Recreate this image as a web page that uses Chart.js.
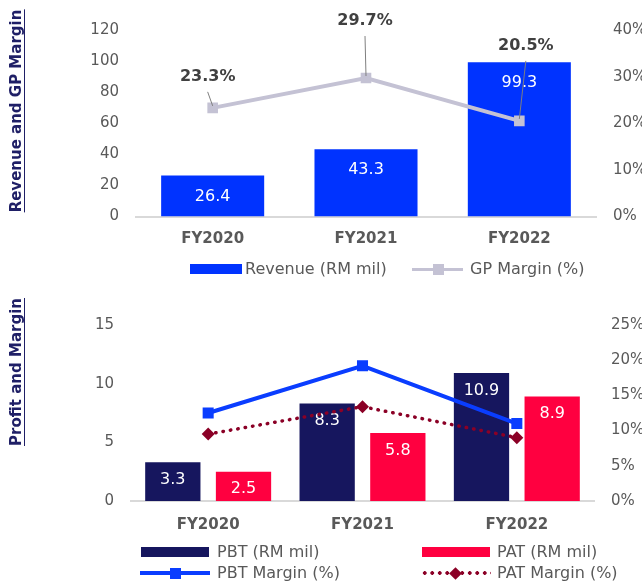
<!DOCTYPE html>
<html>
<head>
<meta charset="utf-8">
<script src="https://cdn.jsdelivr.net/npm/chart.js@4.4.0/dist/chart.umd.min.js"></script>
<style>
  body { margin: 0; background: #fff; font-family: "DejaVu Sans", Verdana, sans-serif; }
  #wrap { position: relative; width: 642px; height: 582px; overflow: hidden; }
  canvas { position: absolute; left: 0; }
  .ytitle {
    position: absolute; font-weight: bold; font-size: 15px; line-height: 15px;
    color: #1f1f66; white-space: nowrap; border-bottom: 1.5px solid #1f1f66;
    transform: translate(-50%, -50%) rotate(-90deg);
  }
  .leg { position: absolute; font-size: 16px; line-height: 20px; color: #595959; white-space: nowrap; }
  .sw { position: absolute; }
</style>
</head>
<body>
<div id="wrap">
  <canvas id="revChart" width="642" height="290" style="top:0"></canvas>
  <canvas id="profitChart" width="642" height="292" style="top:290px"></canvas>

  <div class="ytitle" style="left:17px; top:111px">Revenue and GP Margin</div>
  <div class="ytitle" style="left:17px; top:372px">Profit and Margin</div>

  <!-- top legend -->
  <div class="sw" style="left:190px; top:264px; width:52px; height:10px; background:#0033ff"></div>
  <div class="leg" style="left:245px; top:259px">Revenue (RM mil)</div>
  <div class="sw" style="left:412px; top:267.5px; width:51px; height:3px; background:#c4c2d4"></div>
  <div class="sw" style="left:432.5px; top:263.5px; width:11px; height:11px; background:#c4c2d4"></div>
  <div class="leg" style="left:470px; top:259px">GP Margin (%)</div>

  <!-- bottom legend -->
  <div class="sw" style="left:141px; top:547px; width:68px; height:10px; background:#16165e"></div>
  <div class="leg" style="left:217px; top:542px">PBT (RM mil)</div>
  <div class="sw" style="left:422px; top:547px; width:68px; height:10px; background:#ff0040"></div>
  <div class="leg" style="left:497px; top:542px">PAT (RM mil)</div>
  <div class="sw" style="left:140px; top:571px; width:70px; height:4px; background:#0a3dff"></div>
  <div class="sw" style="left:169.5px; top:567.5px; width:11px; height:11px; background:#0a3dff"></div>
  <div class="leg" style="left:217px; top:563px">PBT Margin (%)</div>
  <div class="sw" style="left:421px; top:571px; width:70px; height:4px;
       background: radial-gradient(circle, #8b0026 1.6px, transparent 2.1px) repeat-x; background-size: 7.5px 4px"></div>
  <div class="sw" style="left:450.5px; top:568.5px; width:9px; height:9px; background:#8b0026; transform:rotate(45deg)"></div>
  <div class="leg" style="left:497px; top:563px">PAT Margin (%)</div>
</div>

<script>
// chart data
const years = ["FY2020", "FY2021", "FY2022"];
const revenue = [26.4, 43.3, 99.3];
const gpMargin = [23.3, 29.7, 20.5];
const pbt = [3.3, 8.3, 10.9];
const pat = [2.5, 5.8, 8.9];
const pbtMargin = [12.5, 19.2, 11.0];
const patMargin = [9.5, 13.4, 9.0];

// axis ranges [min, max, step]
const revAxis = [0, 120, 20];
const gpAxis = [0, 40, 10];
const profitAxis = [0, 15, 5];
const marginAxis = [0, 25, 5];

const FONT = '"DejaVu Sans", Verdana, sans-serif';
Chart.defaults.font.family = FONT;
Chart.defaults.color = "#595959";

// white value labels inside the top of each bar
const barLabels = {
  id: "barLabels",
  afterDatasetDraw(chart, args, opts) {
    const meta = args.meta;
    if (meta.type !== "bar") return;
    const ctx = chart.ctx;
    const ds = chart.data.datasets[args.index];
    ctx.save();
    ctx.fillStyle = "#fff";
    ctx.font = "16px " + FONT;
    ctx.textAlign = "center";
    ctx.textBaseline = "middle";
    meta.data.forEach((bar, i) => {
      ctx.fillText(ds.data[i].toFixed(1), bar.x, bar.y + opts.offset);
    });
    ctx.restore();
  },
};

// GP margin labels with leader lines
const gpLabels = {
  id: "gpLabels",
  afterDatasetsDraw(chart, args, opts) {
    const idx = chart.data.datasets.findIndex((d) => d.type === "line");
    const meta = chart.getDatasetMeta(idx);
    const ds = chart.data.datasets[idx];
    const ctx = chart.ctx;
    ctx.save();
    meta.data.forEach((pt, i) => {
      const [dx, dy] = opts.offsets[i];
      const lx = pt.x + dx;
      const ly = pt.y + dy;
      ctx.strokeStyle = "#7f7f7f";
      ctx.lineWidth = 1;
      ctx.beginPath();
      ctx.moveTo(lx, ly + 15);
      ctx.lineTo(pt.x, pt.y - 2);
      ctx.stroke();
      ctx.fillStyle = "#404040";
      ctx.font = "bold 16px " + FONT;
      ctx.textAlign = "center";
      ctx.textBaseline = "middle";
      ctx.fillText(ds.data[i].toFixed(1) + "%", lx, ly);
    });
    ctx.restore();
  },
};

function yScale(range, pos, width, pct) {
  return {
    position: pos,
    min: range[0],
    max: range[1],
    ticks: {
      stepSize: range[2],
      padding: 17,
      font: { size: 15 },
      callback: (v) => (pct ? v + "%" : v),
    },
    grid: { display: false, drawTicks: false },
    border: { display: false },
    afterFit(s) { s.width = width; },
  };
}

const xScale = {
  grid: { drawOnChartArea: false, drawTicks: false },
  border: { color: "#d9d9d9", width: 2 },
  ticks: { padding: 14, font: { size: 15, weight: "bold" } },
  afterFit(s) { s.height = 40; },
};

new Chart(document.getElementById("revChart"), {
  type: "bar",
  data: {
    labels: years,
    datasets: [
      {
        type: "line",
        label: "GP Margin (%)",
        data: gpMargin,
        yAxisID: "y1",
        borderColor: "#c4c2d4",
        backgroundColor: "#c4c2d4",
        borderWidth: 4,
        pointStyle: "rect",
        pointRadius: 7.5,
        pointBorderWidth: 0,
        order: 1,
      },
      {
        label: "Revenue (RM mil)",
        data: revenue,
        yAxisID: "y",
        backgroundColor: "#0033ff",
        barPercentage: 0.672,
        categoryPercentage: 1,
        order: 2,
      },
    ],
  },
  options: {
    responsive: false,
    animation: false,
    layout: { padding: { top: 30, bottom: 33.5 } },
    plugins: {
      legend: { display: false },
      tooltip: { enabled: false },
      barLabels: { offset: 21 },
      gpLabels: { offsets: [[-5, -31], [-1, -57], [6.5, -75]] },
    },
    scales: {
      x: xScale,
      y: yScale(revAxis, "left", 136, false),
      y1: yScale(gpAxis, "right", 46, true),
    },
  },
  plugins: [barLabels, gpLabels],
});

new Chart(document.getElementById("profitChart"), {
  type: "bar",
  data: {
    labels: years,
    datasets: [
      {
        type: "line",
        label: "PBT Margin (%)",
        data: pbtMargin,
        yAxisID: "y1",
        borderColor: "#0a3dff",
        backgroundColor: "#0a3dff",
        borderWidth: 4,
        pointStyle: "rect",
        pointRadius: 7.8,
        pointBorderWidth: 0,
        order: 1,
      },
      {
        type: "line",
        label: "PAT Margin (%)",
        data: patMargin,
        yAxisID: "y1",
        borderColor: "#8b0026",
        backgroundColor: "#8b0026",
        borderWidth: 3.5,
        borderDash: [0.5, 7],
        borderCapStyle: "round",
        pointStyle: "rectRot",
        pointRadius: 6.5,
        pointBorderWidth: 0,
        order: 1,
      },
      {
        label: "PBT (RM mil)",
        data: pbt,
        yAxisID: "y",
        backgroundColor: "#16165e",
        barPercentage: 0.782,
        categoryPercentage: 0.916,
        order: 2,
      },
      {
        label: "PAT (RM mil)",
        data: pat,
        yAxisID: "y",
        backgroundColor: "#ff0040",
        barPercentage: 0.782,
        categoryPercentage: 0.916,
        order: 2,
      },
    ],
  },
  options: {
    responsive: false,
    animation: false,
    layout: { padding: { top: 35, bottom: 41 } },
    plugins: {
      legend: { display: false },
      tooltip: { enabled: false },
      barLabels: { offset: 17.5 },
    },
    scales: {
      x: Object.assign({}, xScale, { ticks: { padding: 15, font: { size: 15, weight: "bold" } } }),
      y: Object.assign(yScale(profitAxis, "left", 131, false), {}),
      y1: yScale(marginAxis, "right", 48, true),
    },
  },
  plugins: [barLabels],
});
</script>
</body>
</html>
